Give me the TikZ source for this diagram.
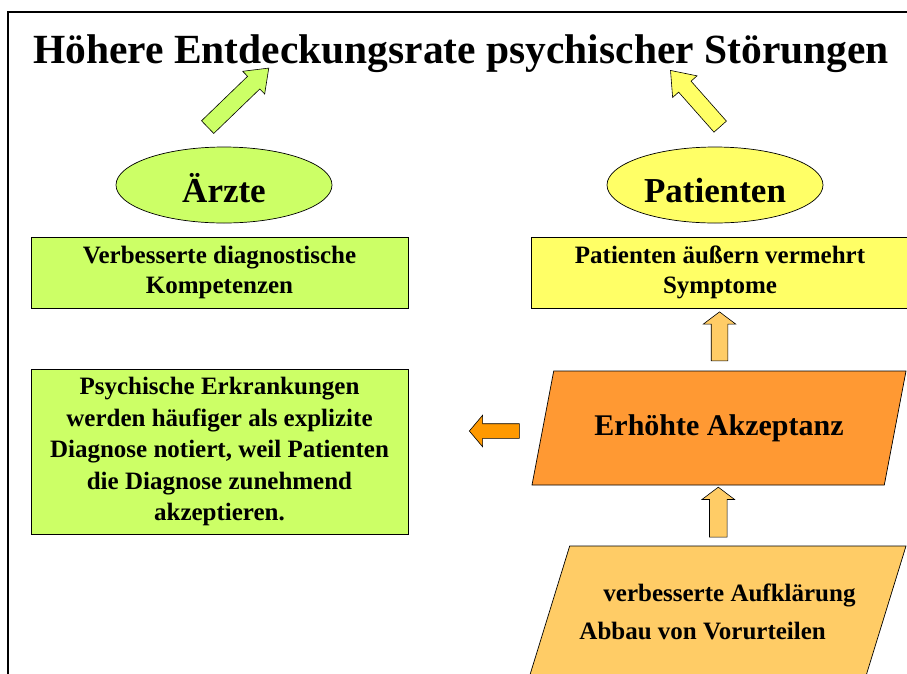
\documentclass[tikz,border=0pt]{standalone}
\usepackage{fontspec}
\setmainfont{Liberation Serif}
\usetikzlibrary{calc,shapes.geometric,shapes.arrows}
\definecolor{limegreen}{HTML}{CCFF66}
\definecolor{paleyellow}{HTML}{FFFF66}
\definecolor{deeporange}{HTML}{FF9933}
\definecolor{pumpkin}{HTML}{FF9900}
\definecolor{apricot}{HTML}{FFCC66}
\tikzset{
    group/.style={
        ellipse,
        draw,
        line width=0.7pt,
        minimum width=216pt,
        minimum height=76pt,
        inner sep=0pt,
        text height=34pt,
        text depth=0pt,
        font=\fontsize{35}{42}\selectfont\bfseries
    },
    fact/.style={
        draw,
        line width=0.7pt,
        minimum height=71pt,
        align=center,
        font=\fontsize{25}{30}\selectfont\bfseries
    },
    cause/.style={
        trapezium,
        trapezium stretches body,
        draw,
        line width=0.7pt,
        inner sep=0pt
    },
    fatarrow/.style={
        single arrow,
        draw,
        line width=0.6pt,
        inner xsep=0pt,
        outer sep=0pt
    }
}

\begin{document}
\begin{tikzpicture}[x=1pt,y=-1pt]

    \useasboundingbox (0,0) rectangle (907,673);
    \clip (0,0) rectangle (907,673);
    \draw[line width=2pt] (8,700) |- (930,12);

    \node (title) [anchor=base,font=\fontsize{41.5}{50}\selectfont\bfseries]
        at (461,63) {Höhere Entdeckungsrate psychischer Störungen};

    %% Aerzte
    \node (arzte) [group,fill=limegreen] at (224,185) {Ärzte};
    \node (kompetenz) [fact,fill=limegreen,minimum width=377pt] at (219.5,272.5)
        {Verbesserte diagnostische\\Kompetenzen};
    \node (notiert) [fact,fill=limegreen,minimum width=377pt,minimum height=165pt,
        font=\fontsize{25}{31.5}\selectfont\bfseries] at (219.5,451.5)
        {Psychische Erkrankungen\\werden häufiger als explizite\\Diagnose notiert, weil Patienten\\die Diagnose zunehmend\\akzeptieren.};

    %% Patienten
    \node (patienten) [group,fill=paleyellow] at (715,185) {Patienten};
    \node (symptome) [fact,fill=paleyellow,minimum width=378pt] at (720,272.5)
        {Patienten äußern vermehrt\\Symptome};
    \node (akzeptanz) [cause,fill=deeporange,minimum width=374pt,minimum height=114pt,
        trapezium left angle=51.4,trapezium right angle=128.6,
        font=\fontsize{30}{36}\selectfont\bfseries] at (719,428) {Erhöhte Akzeptanz};
    \node (aufklaerung) [cause,fill=apricot,minimum width=377pt,minimum height=132pt,
        trapezium left angle=54,trapezium right angle=126,align=left,
        font=\fontsize{25}{30}\selectfont\bfseries] at (717.5,612)
        {\hspace*{24pt}verbesserte Aufklärung\\[8pt]Abbau von Vorurteilen};

    %% Pfeile
    \node (a1) [fatarrow,fill=limegreen,rotate=44,minimum height=85pt,inner ysep=8.5pt,
        single arrow head extend=7pt,single arrow tip angle=74]
        at ($(arzte.north)+(10,-45)$) {};
    \node (a2) [fatarrow,fill=paleyellow,rotate=131.5,minimum height=75pt,inner ysep=8pt,
        single arrow head extend=8pt,single arrow tip angle=74]
        at ($(patienten.north)+(-16,-44)$) {};
    \node (a3) [fatarrow,fill=apricot,rotate=90,minimum height=49pt,inner ysep=8pt,
        single arrow head extend=8pt,single arrow tip angle=106]
        at ($(symptome.south)!0.5!(akzeptanz.north)$) {};
    \node (a4) [fatarrow,fill=apricot,rotate=90,minimum height=50pt,inner ysep=8.5pt,
        single arrow head extend=7.5pt,single arrow tip angle=106]
        at ($(akzeptanz.south)!0.5!(aufklaerung.north)$) {};
    \node (a5) [fatarrow,fill=pumpkin,rotate=180,minimum height=50pt,inner ysep=7pt,
        single arrow head extend=8.5pt,single arrow tip angle=100]
        at ($(notiert.east |- akzeptanz)!0.5!(akzeptanz.west)+(22,3)$) {};

\end{tikzpicture}
\end{document}
